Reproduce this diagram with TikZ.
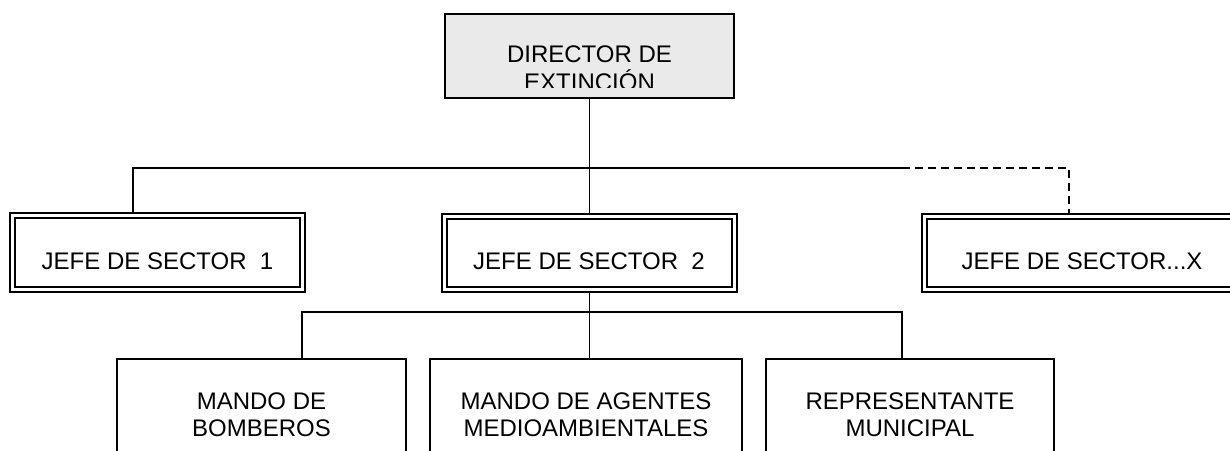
\documentclass[tikz,border=0pt]{standalone}
\usepackage{fontspec}
\setmainfont{Liberation Sans}
\definecolor{boxgray}{RGB}{234,234,234}
\begin{document}
\begin{tikzpicture}[x=1pt,y=-1pt,
  every node/.style={inner sep=0pt, outer sep=0pt},
  lbl/.style={font=\fontsize{24}{27.5}\selectfont, align=center},
  toplbl/.style={font=\fontsize{24}{28}\selectfont, align=center},
  topbox/.style={draw, line width=1.8pt, fill=boxgray, rectangle},
  dblbox/.style={draw, line width=1.4pt, rectangle},
  innerline/.style={line width=2.5pt},
  plainbox/.style={draw, line width=1.7pt, rectangle},
  conn/.style={line width=1.7pt},
  dconn/.style={line width=1.7pt, dash pattern=on 8pt off 5pt}]
\useasboundingbox (0,0) rectangle (1230,450);
\begin{scope}
\clip (0,0) rectangle (1230,450);
% top box
\node[topbox, minimum width=289pt, minimum height=84pt] (dir) at (589.5,56) {};
\begin{scope}
\clip (445,14) rectangle (734,87.3);
\node[toplbl, anchor=north] (dirt) at (589.5,46) {DIRECTOR DE\\EXTINCIÓN};
\end{scope}
% sector boxes
\node[dblbox, minimum width=295pt, minimum height=79pt] (s1) at (157.5,252.5) {};
\node[dblbox, minimum width=295pt, minimum height=78pt] (s2) at (589.5,253) {};
\node[dblbox, minimum width=320pt, minimum height=78pt] (sx) at (1082,253) {};
\foreach \n in {s1,s2,sx}{
  \draw[innerline] ([xshift=5pt,yshift=-5pt]\n.north west) rectangle ([xshift=-5pt,yshift=5pt]\n.south east);
}
\node[lbl, anchor=base] (s1t) at (157.5,269.5) {JEFE DE SECTOR\ \ 1};
\node[lbl, anchor=base] (s2t) at (589,269.5) {JEFE DE SECTOR\ \ 2};
\node[lbl, anchor=base] (sxt) at (1082,269.5) {JEFE DE SECTOR...X};
% bottom boxes
\node[plainbox, minimum width=289pt, minimum height=120pt] (m1) at (261.5,419) {};
\node[plainbox, minimum width=312pt, minimum height=120pt] (m2) at (586,419) {};
\node[plainbox, minimum width=288pt, minimum height=120pt] (m3) at (910,419) {};
\node[lbl, anchor=north] (m1t) at (261.5,392.7) {MANDO DE\\BOMBEROS};
\node[lbl, anchor=north] (m2t) at (586,392.7) {MANDO DE AGENTES\\MEDIOAMBIENTALES};
\node[lbl, anchor=north] (m3t) at (910,392.7) {REPRESENTANTE\\MUNICIPAL};
% connectors
\coordinate (bus1) at (589.5,168);
\coordinate (cL) at (133,168);
\coordinate (cS) at (902,168);
\coordinate (cR) at (1069,168);
\draw[conn] (dir.south) -- (bus1);
\draw[conn] (cL |- s1.north) -- (cL) -- (cS);
\draw[dconn] (cS) -- (cR) -- (cR |- sx.north);
\draw[conn] (bus1) -- (s2.north);
\coordinate (b2) at (589.5,312);
\coordinate (bL) at (302,312);
\coordinate (bR) at (902,312);
\draw[conn] (s2.south) -- (b2);
\draw[conn] (bL |- m1.north) -- (bL) -- (bR) -- (bR |- m3.north);
\draw[conn] (b2) -- (b2 |- m2.north);
\end{scope}
\end{tikzpicture}
\end{document}
